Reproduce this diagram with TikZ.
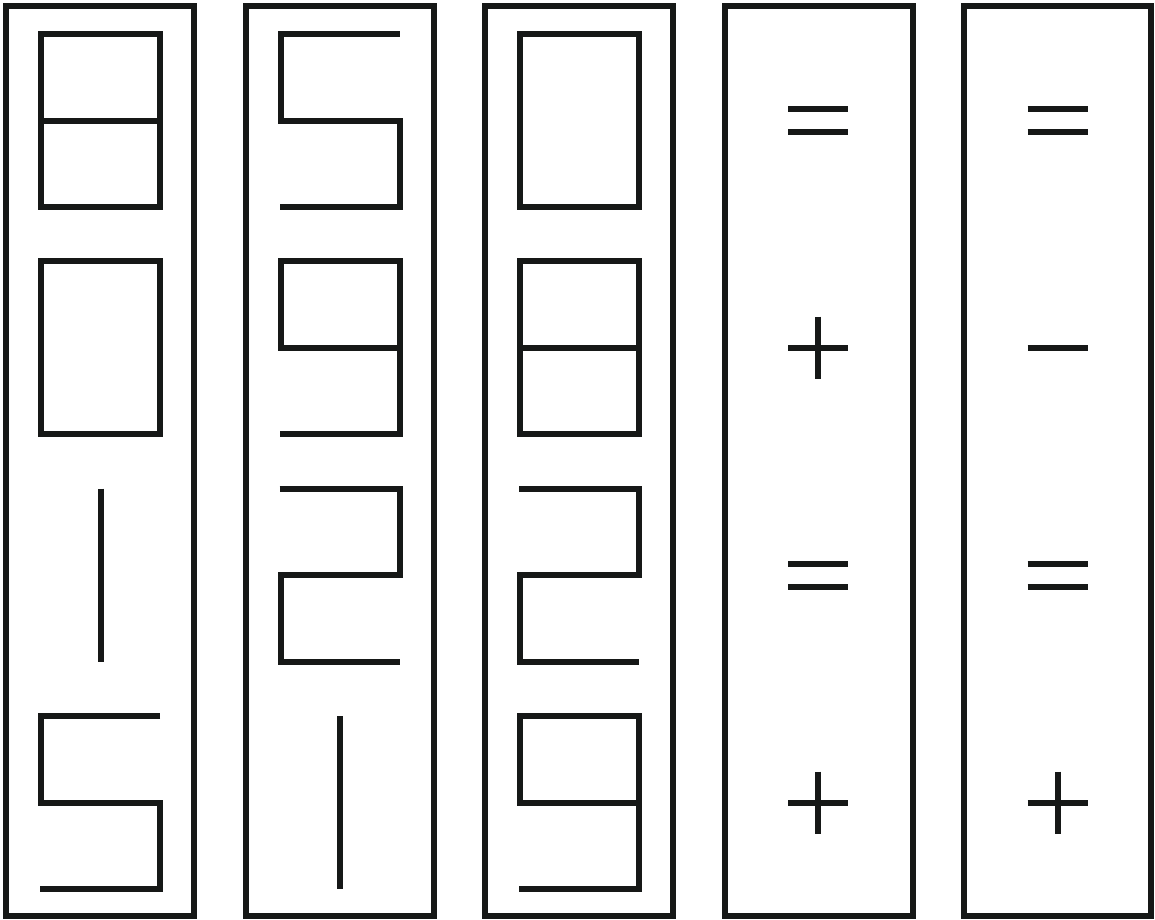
\documentclass[tikz,border=0pt]{standalone}
\definecolor{ink}{RGB}{22,24,23}
\tikzset{
  seg/.style={draw=ink, line width=6pt, line join=miter, line cap=butt},
  frame/.style={seg},
  pics/zero/.style={code={\draw[seg] (0,0) rectangle (119,173);}},
  pics/eight/.style={code={\draw[seg] (0,0) rectangle (119,173); \draw[seg] (0,86.5) -- (119,86.5);}},
  pics/five/.style={code={\draw[seg] (119,0) -- (0,0) -- (0,86.5) -- (119,86.5) -- (119,173) -- (-1,173);}},
  pics/nine/.style={code={\draw[seg] (119,86.5) -- (0,86.5) -- (0,0) -- (119,0) -- (119,173) -- (-1,173);}},
  pics/two/.style={code={\draw[seg] (-1,0) -- (119,0) -- (119,86.5) -- (0,86.5) -- (0,173) -- (119,173);}},
  pics/one/.style={code={\draw[seg] (59.5,0) -- (59.5,173);}},
  pics/eqs/.style={code={\draw[seg] (-30,-11.5) -- (30,-11.5); \draw[seg] (-30,11.5) -- (30,11.5);}},
  pics/pls/.style={code={\draw[seg] (-30,0) -- (30,0); \draw[seg] (0,-31) -- (0,31);}},
  pics/mns/.style={code={\draw[seg] (-30,0) -- (30,0);}},
}
\begin{document}
\begin{tikzpicture}[x=1pt,y=-1pt]
\useasboundingbox (0,0) rectangle (1155,919);
% frames
\draw[frame] (6,5.5) rectangle (194,916);
\draw[frame] (245.5,5.5) rectangle (433.5,916);
\draw[frame] (485,5.5) rectangle (673,916);
\draw[frame] (724.5,5.5) rectangle (912.5,916);
\draw[frame] (964,5.5) rectangle (1151,916);
% panel 1
\pic at (41,34) {eight};
\pic at (41,261.3) {zero};
\pic at (41,488.6) {one};
\pic at (41,716) {five};
% panel 2
\pic at (280.5,34) {five};
\pic at (280.5,261.3) {nine};
\pic at (280.5,488.6) {two};
\pic at (280.5,716) {one};
% panel 3
\pic at (520,34) {zero};
\pic at (520,261.3) {eight};
\pic at (520,488.6) {two};
\pic at (520,716) {nine};
% panel 4
\pic at (818,120.5) {eqs};
\pic at (818,347.5) {pls};
\pic at (818,575.3) {eqs};
\pic at (818,802.5) {pls};
% panel 5
\pic at (1057.5,120.5) {eqs};
\pic at (1057.5,347.8) {mns};
\pic at (1057.5,575.3) {eqs};
\pic at (1057.5,802.5) {pls};
\end{tikzpicture}
\end{document}
